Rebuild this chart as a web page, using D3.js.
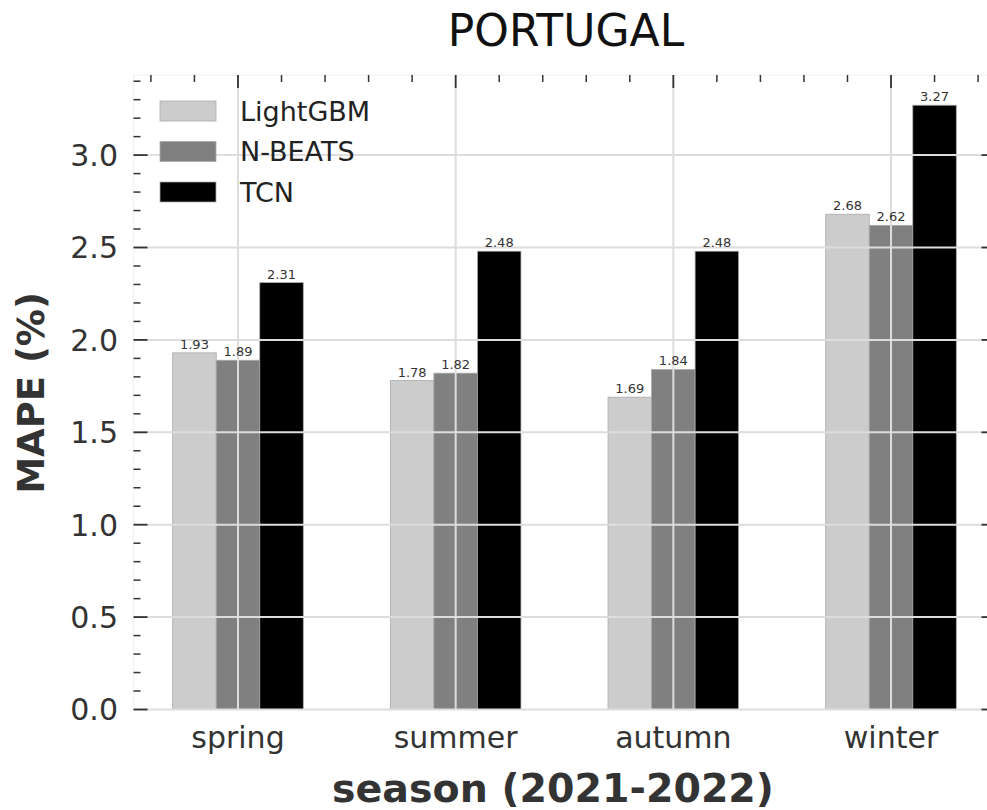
<!DOCTYPE html>
<html>
<head>
<meta charset="utf-8">
<script src="https://cdn.jsdelivr.net/npm/d3@7"></script>
<style>
  body { margin: 0; background: #fff; }
  text { font-family: "DejaVu Sans", sans-serif; }
</style>
</head>
<body>
<svg id="chart" width="987" height="810"></svg>
<script>
const seasons = ["spring", "summer", "autumn", "winter"];
const models = ["LightGBM", "N-BEATS", "TCN"];
const lightgbm = [1.93, 1.78, 1.69, 2.68];
const nbeats = [1.89, 1.82, 1.84, 2.62];
const tcn = [2.31, 2.48, 2.48, 3.27];
const yTicks = [0, 0.5, 1.0, 1.5, 2.0, 2.5, 3.0];

const series = { "LightGBM": lightgbm, "N-BEATS": nbeats, "TCN": tcn };
const colors = { "LightGBM": "#cccccc", "N-BEATS": "#808080", "TCN": "#000000" };

const svg = d3.select("#chart");
const plotL = 133.5, plotR = 995.5, plotT = 75, plotB = 709.5;

const x = d3.scaleLinear().domain([-0.48, 3.48]).range([plotL, plotR]);
const y = d3.scaleLinear().domain([0, 3.4335]).range([plotB, plotT]);
const barW = 0.2;

// faint frame
svg.append("line").attr("x1", plotL).attr("x2", plotL).attr("y1", plotT).attr("y2", plotB)
    .attr("stroke", "#f0f0f0").attr("stroke-width", 1);
svg.append("line").attr("x1", plotL).attr("x2", plotR).attr("y1", plotT).attr("y2", plotT)
    .attr("stroke", "#f0f0f0").attr("stroke-width", 1);

// bars
models.forEach((m, j) => {
    const off = (j - 1) * barW;
    svg.append("g").selectAll("rect")
        .data(series[m])
        .enter().append("rect")
        .attr("x", (d, i) => x(i + off - barW / 2))
        .attr("width", x(barW) - x(0))
        .attr("y", d => y(d))
        .attr("height", d => y(0) - y(d))
        .attr("fill", colors[m])
        .attr("stroke", "#aaa")
        .attr("stroke-width", 0.8);
});

// grid over bars
svg.append("g").selectAll("line")
    .data(yTicks)
    .enter().append("line")
    .attr("x1", plotL).attr("x2", plotR)
    .attr("y1", d => y(d)).attr("y2", d => y(d))
    .attr("stroke", "#dddddd").attr("stroke-width", 2);
svg.append("g").selectAll("line")
    .data(seasons)
    .enter().append("line")
    .attr("x1", (d, i) => x(i)).attr("x2", (d, i) => x(i))
    .attr("y1", plotT).attr("y2", plotB)
    .attr("stroke", "#dddddd").attr("stroke-width", 2);

// value labels
models.forEach((m, j) => {
    const off = (j - 1) * barW;
    svg.append("g").selectAll("text")
        .data(series[m])
        .enter().append("text")
        .attr("x", (d, i) => x(i + off))
        .attr("y", d => y(d) - 4)
        .attr("text-anchor", "middle")
        .attr("font-size", 13)
        .attr("fill", "#333")
        .text(d => d.toFixed(2));
});

// ticks
const minorY = d3.range(0, 3.41, 0.1).filter(v => Math.abs(v * 2 - Math.round(v * 2)) > 0.01);
const tickCol = "#333";
svg.append("g").selectAll("line").data(minorY).enter().append("line")
    .attr("x1", plotL).attr("x2", plotL + 7)
    .attr("y1", d => y(d)).attr("y2", d => y(d))
    .attr("stroke", tickCol).attr("stroke-width", 1.5);
svg.append("g").selectAll("line").data(yTicks).enter().append("line")
    .attr("x1", plotL).attr("x2", plotL + 14)
    .attr("y1", d => y(d)).attr("y2", d => y(d))
    .attr("stroke", tickCol).attr("stroke-width", 1.8);
svg.append("g").selectAll("line").data(yTicks).enter().append("line")
    .attr("x1", plotR - 14).attr("x2", plotR)
    .attr("y1", d => y(d)).attr("y2", d => y(d))
    .attr("stroke", tickCol).attr("stroke-width", 1.8);

const minorX = d3.range(-0.4, 3.41, 0.2).filter(v => Math.abs(v - Math.round(v)) > 0.01);
svg.append("g").selectAll("line").data(minorX).enter().append("line")
    .attr("x1", d => x(d)).attr("x2", d => x(d))
    .attr("y1", plotT).attr("y2", plotT + 7)
    .attr("stroke", tickCol).attr("stroke-width", 1.5);
svg.append("g").selectAll("line").data(seasons).enter().append("line")
    .attr("x1", (d, i) => x(i)).attr("x2", (d, i) => x(i))
    .attr("y1", plotT).attr("y2", plotT + 13)
    .attr("stroke", tickCol).attr("stroke-width", 1.8);

// tick labels
svg.append("g").selectAll("text").data(yTicks).enter().append("text")
    .attr("x", 118).attr("y", d => y(d))
    .attr("dy", "0.36em")
    .attr("text-anchor", "end")
    .attr("font-size", 30)
    .attr("fill", "#333")
    .text(d => d.toFixed(1));
svg.append("g").selectAll("text").data(seasons).enter().append("text")
    .attr("x", (d, i) => x(i)).attr("y", 748)
    .attr("text-anchor", "middle")
    .attr("font-size", 30)
    .attr("fill", "#333")
    .text(d => d);

// axis titles
svg.append("text")
    .attr("x", 553).attr("y", 802)
    .attr("text-anchor", "middle")
    .attr("font-size", 39.5).attr("font-weight", "bold")
    .attr("fill", "#333")
    .text("season (2021-2022)");
svg.append("text")
    .attr("transform", "translate(44,393) rotate(-90)")
    .attr("text-anchor", "middle")
    .attr("font-size", 37).attr("font-weight", "bold")
    .attr("fill", "#333")
    .text("MAPE (%)");
svg.append("text")
    .attr("x", 566).attr("y", 46)
    .attr("text-anchor", "middle")
    .attr("font-size", 44)
    .attr("fill", "#111")
    .text("PORTUGAL");

// legend
const legend = svg.selectAll(".legend")
    .data(models)
    .enter().append("g")
    .attr("class", "legend")
    .attr("transform", (d, i) => `translate(160,${101 + i * 40.5})`);
legend.append("rect")
    .attr("width", 56).attr("height", 20)
    .attr("fill", d => colors[d])
    .attr("stroke", "#aaa").attr("stroke-width", 0.8);
legend.append("text")
    .attr("x", 80).attr("y", 10)
    .attr("dy", "0.36em")
    .attr("font-size", 27)
    .attr("fill", "#222")
    .text(d => d);
</script>
</body>
</html>
